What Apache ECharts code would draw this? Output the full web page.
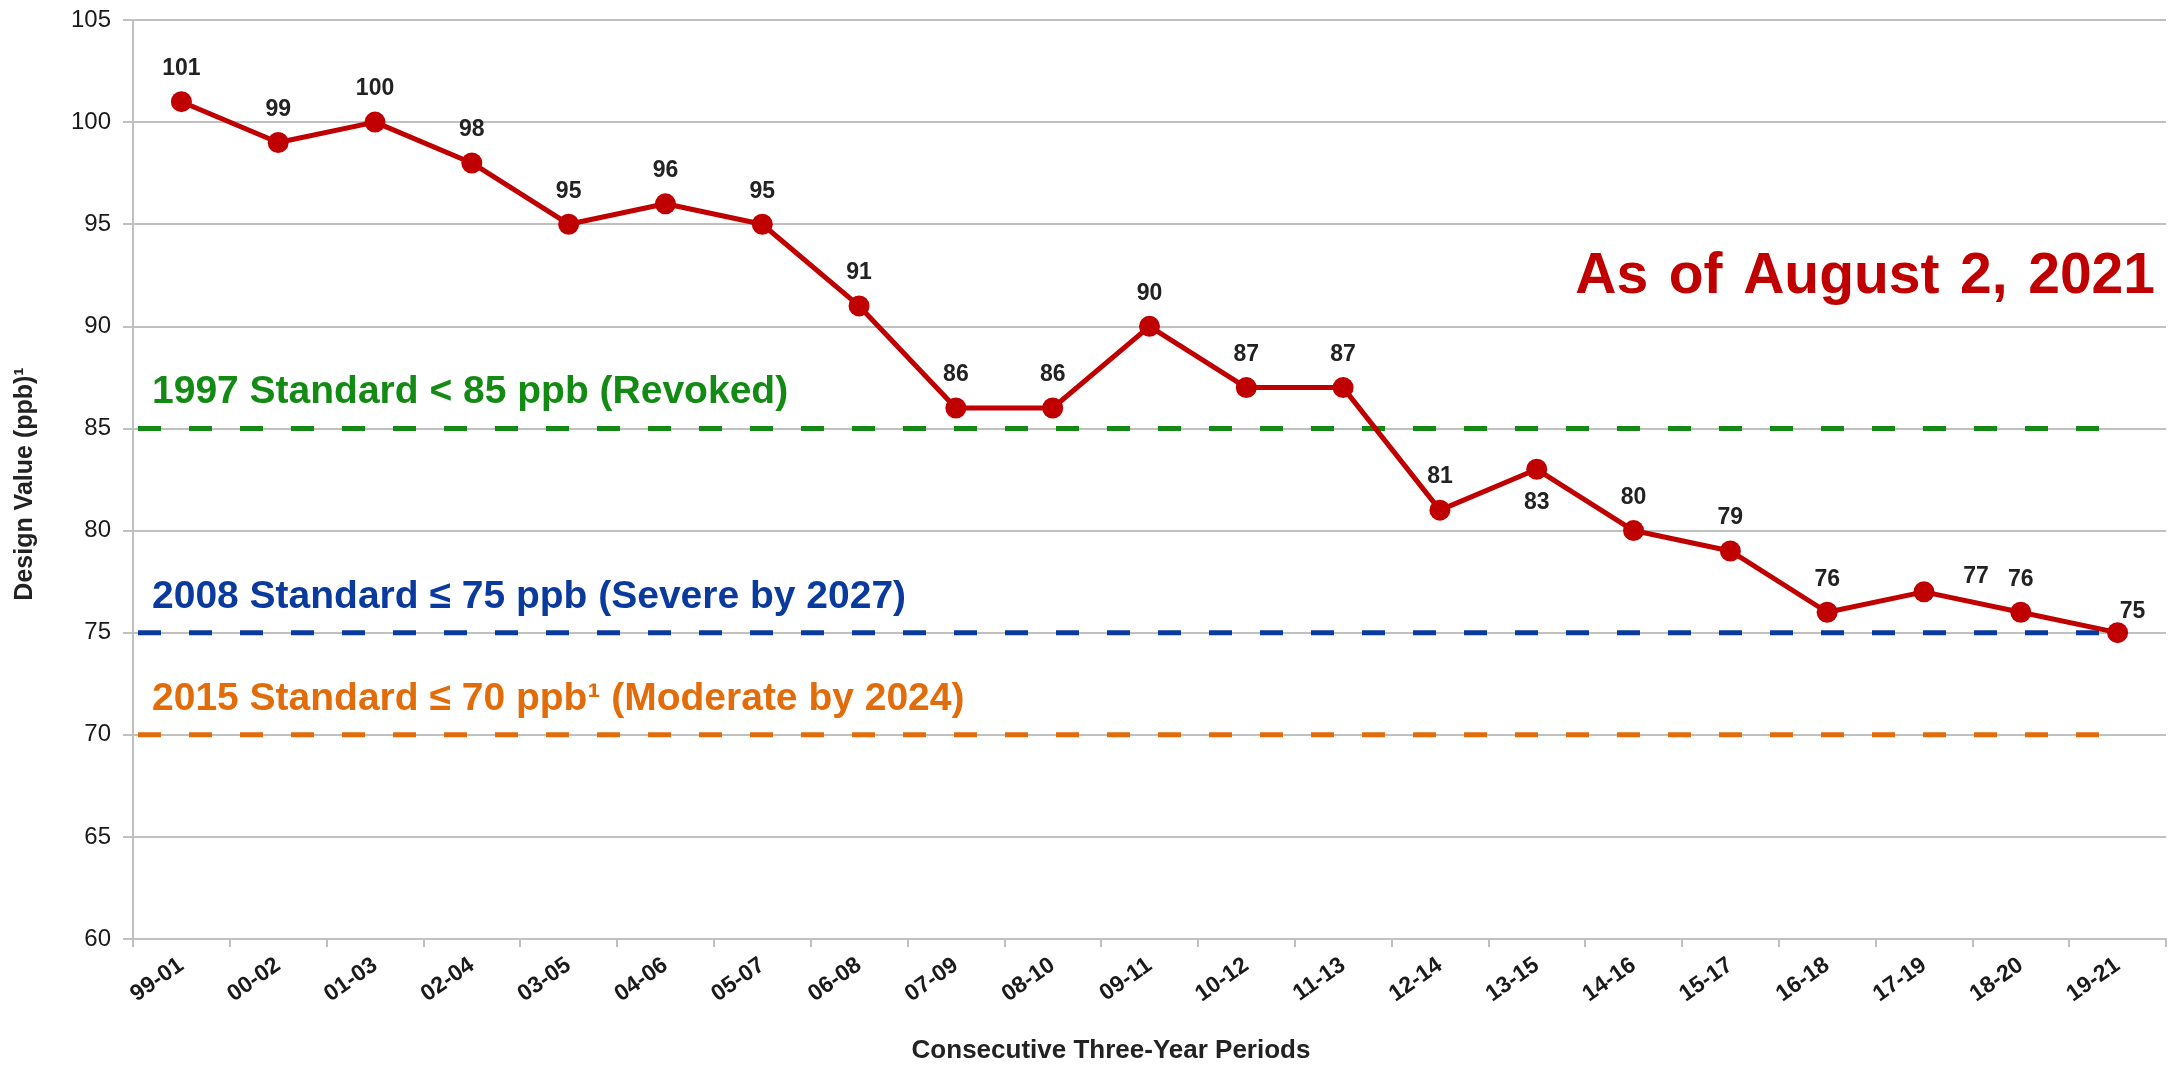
<!DOCTYPE html>
<html>
<head>
<meta charset="utf-8">
<script src="https://cdn.jsdelivr.net/npm/echarts@6/dist/echarts.min.js"></script>
<style>
html,body{margin:0;padding:0;background:#fff;}
#chart{width:2177px;height:1066px;}
</style>
</head>
<body>
<div id="chart"></div>
<script>
var categories = ['99-01','00-02','01-03','02-04','03-05','04-06','05-07','06-08','07-09','08-10','09-11','10-12','11-13','12-14','13-15','14-16','15-17','16-18','17-19','18-20','19-21'];
var designValues = [101, 99, 100, 98, 95, 96, 95, 91, 86, 86, 90, 87, 87, 81, 83, 80, 79, 76, 77, 76, 75];
var yTicks = {min: 60, max: 105, interval: 5};
var standardValues = [85, 75, 70];
var standardLabels = ['1997 Standard < 85 ppb (Revoked)', '2008 Standard \u2264 75 ppb (Severe by 2027)', '2015 Standard \u2264 70 ppb\u00B9 (Moderate by 2024)'];
var standardColors = ['#138a13', '#0b3a9e', '#e36c0a'];
var dateNote = 'As of August 2, 2021';
var yAxisTitle = 'Design Value (ppb)\u00B9';
var xAxisTitle = 'Consecutive Three-Year Periods';

var FONT = '"Liberation Sans", Arial, sans-serif';
var chart = echarts.init(document.getElementById('chart'), null, {renderer: 'canvas'});

// label placement tweaks (per point index)
var labelTweaks = {
  14: {position: 'bottom'},
  18: {position: 'top', offset: [52, 18]},
  20: {position: 'top', offset: [15, 12]}
};

var lineData = designValues.map(function (v, i) {
  var d = {value: v};
  if (labelTweaks[i]) d.label = labelTweaks[i];
  return d;
});

var series = [];
standardValues.forEach(function (v, i) {
  series.push({
    type: 'line',
    xAxisIndex: 1,
    yAxisIndex: 0,
    data: [[0, v], [categories.length - 0.5, v]],
    symbol: 'none',
    silent: true,
    z: 3,
    lineStyle: {color: standardColors[i], width: 5, type: [23, 28], dashOffset: -5, cap: 'butt'}
  });
});
series.push({
  type: 'line',
  xAxisIndex: 0,
  data: lineData,
  symbol: 'circle',
  symbolSize: 21,
  z: 5,
  lineStyle: {color: '#c00000', width: 5},
  itemStyle: {color: '#c00000'},
  label: {
    show: true,
    position: 'top',
    distance: 11,
    fontFamily: FONT,
    fontSize: 23,
    fontWeight: 'bold',
    color: '#222'
  }
});

chart.setOption({
  animation: false,
  backgroundColor: '#fff',
  grid: {left: 133, right: 11, top: 20, bottom: 127, containLabel: false},
  xAxis: [{
    type: 'category',
    data: categories,
    boundaryGap: true,
    axisLine: {show: true, lineStyle: {color: '#c0c0c0', width: 2}},
    axisTick: {show: true, length: 8, lineStyle: {color: '#c0c0c0', width: 2}},
    axisLabel: {rotate: 35, margin: 24, fontFamily: FONT, fontSize: 23, fontWeight: 'bold', color: '#1a1a1a'},
    splitLine: {show: false}
  }, {
    type: 'value',
    min: 0,
    max: categories.length,
    show: false
  }],
  yAxis: [{
    type: 'value',
    min: yTicks.min,
    max: yTicks.max,
    interval: yTicks.interval,
    axisLine: {show: true, lineStyle: {color: '#c0c0c0', width: 2}},
    axisTick: {show: true, length: 10, lineStyle: {color: '#c0c0c0', width: 2}},
    axisLabel: {margin: 22, fontFamily: FONT, fontSize: 24, color: '#1a1a1a'},
    splitLine: {show: true, lineStyle: {color: '#c0c0c0', width: 2}}
  }],
  series: series
});

var graphics = [];
standardValues.forEach(function (v, i) {
  var y = chart.convertToPixel({yAxisIndex: 0}, v);
  graphics.push({
    type: 'text',
    left: 152,
    top: y - 26 - 39 * 0.75,
    style: {
      text: standardLabels[i],
      fontFamily: FONT,
      fontSize: 39,
      fontWeight: 'bold',
      fill: standardColors[i]
    },
    z: 10
  });
});
graphics.push({
  type: 'text',
  right: 22,
  top: 249,
  style: {text: dateNote.replace(/ /g, ' \u200A'), fontFamily: FONT, fontSize: 57, fontWeight: 'bold', fill: '#c00000'},
  z: 10
});
graphics.push({
  type: 'text',
  x: 1111,
  y: 1051,
  style: {text: xAxisTitle, fontFamily: FONT, fontSize: 26, fontWeight: 'bold', fill: '#222', align: 'center', verticalAlign: 'middle'},
  z: 10
});
graphics.push({
  type: 'text',
  x: 25,
  y: 484,
  rotation: Math.PI / 2,
  style: {text: yAxisTitle, fontFamily: FONT, fontSize: 25, fontWeight: 'bold', fill: '#222', align: 'center', verticalAlign: 'middle'},
  z: 10
});
chart.setOption({graphic: graphics});
</script>
</body>
</html>
